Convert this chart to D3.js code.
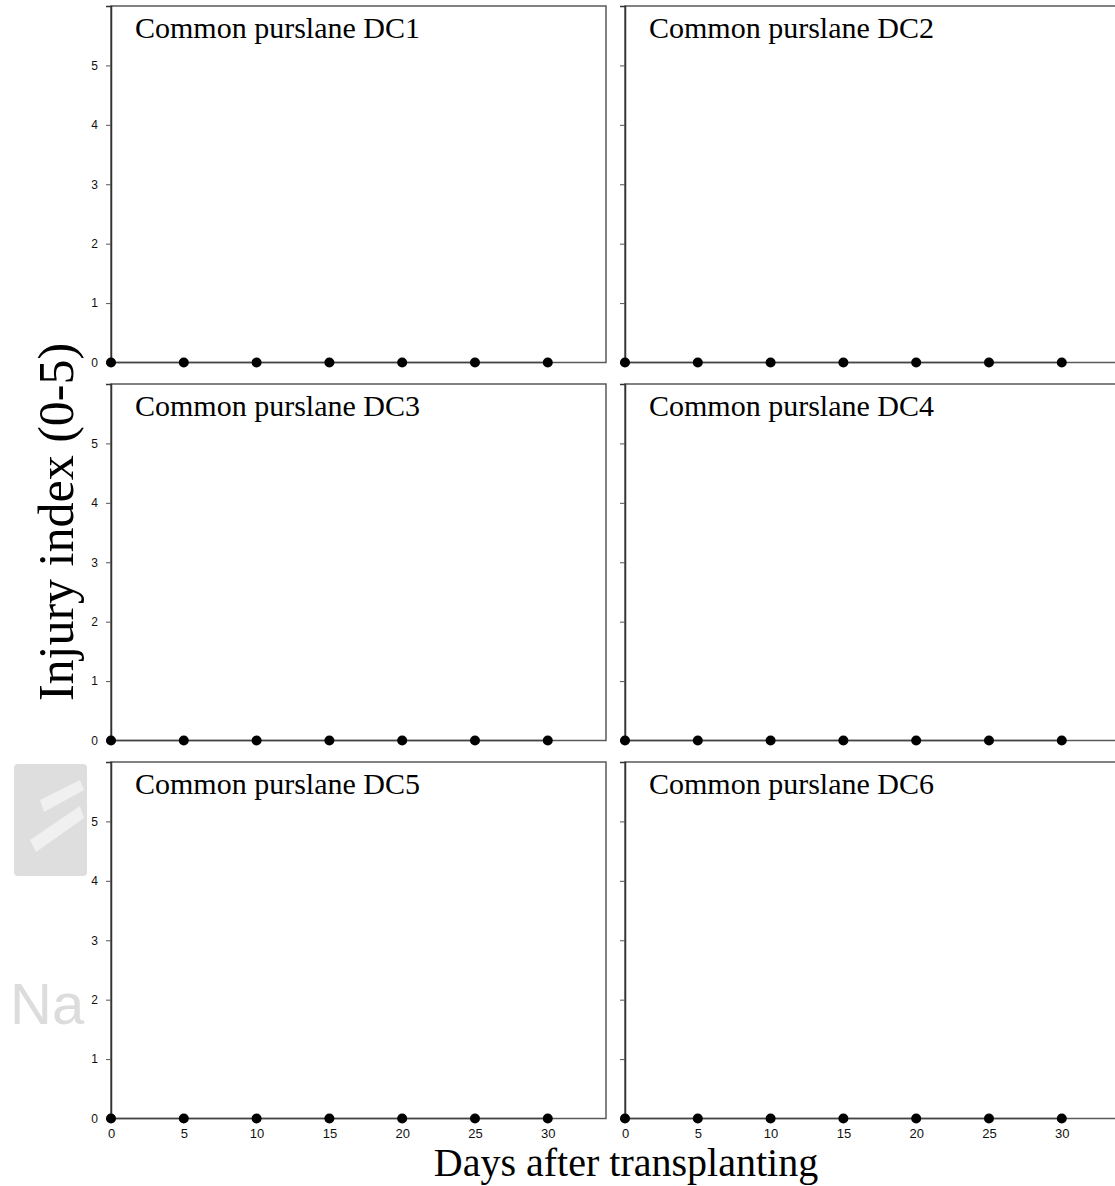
<!DOCTYPE html>
<html>
<head>
<meta charset="utf-8">
<script src="https://cdn.jsdelivr.net/npm/d3@7"></script>
<style>
  body { margin: 0; background: #fff; }
  svg { display: block; }
</style>
</head>
<body>
<svg id="chart"></svg>
<script>
// data: every panel sits at zero for the whole run
var days = [0, 5, 10, 15, 20, 25, 30];
var dc1 = [0, 0, 0, 0, 0, 0, 0];
var dc2 = [0, 0, 0, 0, 0, 0, 0];
var dc3 = [0, 0, 0, 0, 0, 0, 0];
var dc4 = [0, 0, 0, 0, 0, 0, 0];
var dc5 = [0, 0, 0, 0, 0, 0, 0];
var dc6 = [0, 0, 0, 0, 0, 0, 0];
var panelTitles = ["Common purslane DC1", "Common purslane DC2", "Common purslane DC3",
                   "Common purslane DC4", "Common purslane DC5", "Common purslane DC6"];
var yTicks = [0, 1, 2, 3, 4, 5];
var xTicks = [0, 5, 10, 15, 20, 25, 30];

var series = [dc1, dc2, dc3, dc4, dc5, dc6];

var W = 1115, H = 1186;
var svg = d3.select("#chart").attr("width", W).attr("height", H);

// faint watermark at the left edge of the source image
var wm = svg.append("g");
wm.append("rect").attr("x", 14).attr("y", 764).attr("width", 73).attr("height", 112)
  .attr("rx", 4).attr("fill", "#dedede");
wm.append("path").attr("d", "M40 800 L80 780 L84 790 L44 812 Z M30 840 L80 806 L84 818 L36 852 Z")
  .attr("fill", "#f0f0f0");
wm.append("text").attr("x", 10).attr("y", 1024)
  .attr("font-family", "Liberation Sans, Arial, sans-serif").style("font-size", "58px")
  .attr("fill", "#dcdcdc").text("Na");
svg.append("rect").attr("x", 87).attr("y", 750).attr("width", 20).attr("height", 300).attr("fill", "#fff");

var colX = [111, 625];
var rowY = [6, 384, 762];
var pw = 495, ph = 356.5;

var x = d3.scaleLinear().domain([0, 34]).range([0, pw]);
var y = d3.scaleLinear().domain([0, 6]).range([ph, 0]);

var line = d3.line()
  .x(function(d, i) { return x(days[i]); })
  .y(function(d) { return y(d); });

series.forEach(function(vals, k) {
  var col = k % 2, row = Math.floor(k / 2);
  var g = svg.append("g")
    .attr("transform", "translate(" + colX[col] + "," + rowY[row] + ")");

  // frame
  g.append("rect")
    .attr("width", pw).attr("height", ph)
    .attr("fill", "none").attr("stroke", "#5a5a5a").attr("stroke-width", 1.5);

  // y axis
  var ya = g.append("g")
    .call(d3.axisLeft(y).tickValues(yTicks).tickSize(5).tickPadding(8)
      .tickFormat(col === 0 ? d3.format("d") : ""));
  ya.select(".domain").attr("stroke", "#333").attr("stroke-width", 1.5);
  ya.selectAll(".tick line").attr("stroke", "#555");
  ya.selectAll("text").attr("font-family", "Liberation Sans, Arial, sans-serif")
    .style("font-size", "12px").attr("fill", "#111");

  // x labels only on the bottom row
  if (row === 2) {
    var xa = g.append("g")
      .attr("transform", "translate(0," + ph + ")")
      .call(d3.axisBottom(x).tickValues(xTicks).tickSize(0).tickPadding(10));
    xa.select(".domain").remove();
    xa.selectAll("text").attr("font-family", "Liberation Sans, Arial, sans-serif")
      .style("font-size", "13px").attr("fill", "#111");
  }

  g.append("path")
    .datum(vals)
    .attr("fill", "none").attr("stroke", "#444").attr("stroke-width", 1.5)
    .attr("d", line);

  g.selectAll("circle")
    .data(vals)
    .enter().append("circle")
    .attr("cx", function(d, i) { return x(days[i]); })
    .attr("cy", function(d) { return y(d); })
    .attr("r", 5)
    .attr("fill", "#000");

  g.append("text")
    .attr("x", 24).attr("y", 32)
    .attr("font-family", "Liberation Serif, Times New Roman, serif")
    .style("font-size", "30px")
    .attr("fill", "#000")
    .text(panelTitles[k]);
});

// shared axis titles
svg.append("text")
  .attr("x", 626).attr("y", 1176)
  .attr("text-anchor", "middle")
  .attr("font-family", "Liberation Serif, Times New Roman, serif")
  .style("font-size", "40px")
  .text("Days after transplanting");

svg.append("text")
  .attr("transform", "translate(73,522) rotate(-90)")
  .attr("text-anchor", "middle")
  .attr("font-family", "Liberation Serif, Times New Roman, serif")
  .style("font-size", "50px")
  .text("Injury index (0-5)");
</script>
</body>
</html>
